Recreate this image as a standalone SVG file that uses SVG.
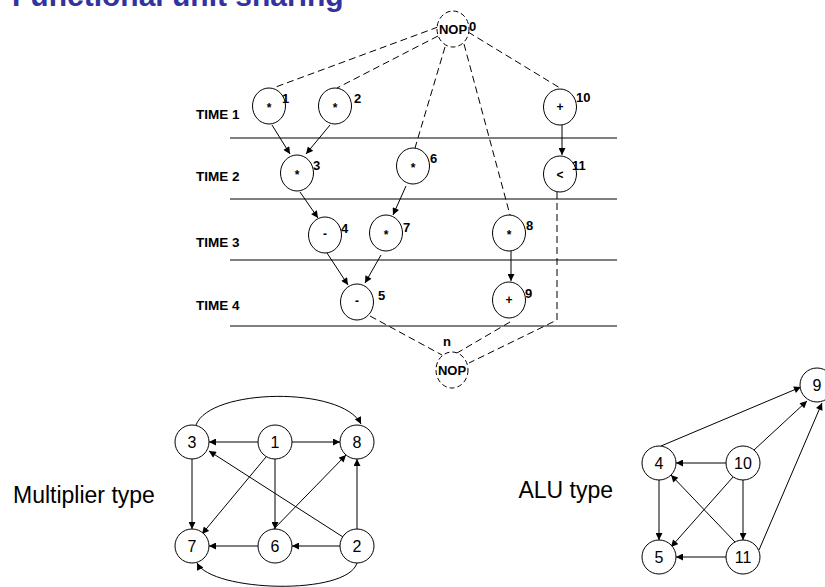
<svg xmlns="http://www.w3.org/2000/svg" width="825" height="587" viewBox="0 0 825 587">
  <style>
    text { font-family: "Liberation Sans", Arial, sans-serif; fill: #000; }
    .title { font-size: 30px; font-weight: bold; fill: #3333a0; }
    .time { font-size: 13.5px; font-weight: bold; }
    .op { font-size: 12px; font-weight: bold; text-anchor: middle; }
    .num { font-size: 13px; font-weight: bold; }
    .nop { font-size: 13px; font-weight: bold; text-anchor: middle; }
    .side { font-size: 23px; }
    .lbl { font-size: 16px; text-anchor: middle; }
    .node { fill: #fff; stroke: #000; stroke-width: 1; }
    .dnode { fill: #fff; stroke: #000; stroke-width: 1; stroke-dasharray: 5 3; }
    .band { stroke: #000; stroke-width: 1.2; fill: none; }
    .edge { stroke: #000; stroke-width: 1; fill: none; marker-end: url(#ah); }
    .dash { stroke: #000; stroke-width: 1; fill: none; stroke-dasharray: 7 4; }
  </style>
  <defs>
    <marker id="ah" viewBox="0 0 10 10" refX="10" refY="5" markerWidth="8" markerHeight="7" orient="auto" markerUnits="userSpaceOnUse">
      <path d="M0,0 L10,5 L0,10 z" fill="#000"/>
    </marker>
  </defs>

  <text class="title" x="12" y="6">Functional unit sharing</text>

  <!-- time step bands -->
  <g id="timeline">
    <line class="band" x1="230" y1="138" x2="617" y2="138"/>
    <line class="band" x1="230" y1="199" x2="617" y2="199"/>
    <line class="band" x1="230" y1="260" x2="617" y2="260"/>
    <line class="band" x1="230" y1="326" x2="617" y2="326"/>
    <text class="time" x="196" y="119">TIME 1</text>
    <text class="time" x="196" y="181">TIME 2</text>
    <text class="time" x="196" y="247">TIME 3</text>
    <text class="time" x="196" y="310">TIME 4</text>
  </g>

  <!-- scheduled sequencing graph: connectors -->
  <g id="sched-edges">
    <line class="dash" x1="438" y1="27" x2="273" y2="88"/>
    <line class="dash" x1="438" y1="36" x2="337" y2="88"/>
    <line class="dash" x1="445" y1="47" x2="415" y2="148"/>
    <line class="dash" x1="464" y1="44" x2="510" y2="215"/>
    <line class="dash" x1="468" y1="32" x2="560" y2="88"/>
    <line class="dash" x1="370" y1="316" x2="442" y2="355"/>
    <line class="dash" x1="510" y1="322" x2="457" y2="353"/>
    <polyline class="dash" points="557,192 557,320 469,363"/>
    <line class="edge" x1="272" y1="125" x2="290" y2="154"/>
    <line class="edge" x1="330" y1="125" x2="306" y2="154"/>
    <line class="edge" x1="562" y1="125" x2="562" y2="155"/>
    <line class="edge" x1="406" y1="186" x2="393" y2="215"/>
    <line class="edge" x1="300" y1="192" x2="318" y2="218"/>
    <line class="edge" x1="327" y1="253" x2="348" y2="285"/>
    <line class="edge" x1="381" y1="255" x2="365" y2="283"/>
    <line class="edge" x1="511" y1="251" x2="511" y2="281"/>
  </g>

  <g id="nop0">
    <ellipse class="dnode" cx="453" cy="29" rx="16" ry="18"/>
    <text class="nop" x="453" y="34">NOP</text>
    <text class="num" x="469" y="31">0</text>
  </g>
  <g id="op1">
    <ellipse class="node" cx="269" cy="106" rx="16.5" ry="18"/>
    <text class="op" x="269" y="112">*</text>
    <text class="num" x="282" y="103">1</text>
  </g>
  <g id="op2">
    <ellipse class="node" cx="335" cy="106" rx="16.5" ry="18"/>
    <text class="op" x="335" y="112">*</text>
    <text class="num" x="354" y="103">2</text>
  </g>
  <g id="op10">
    <ellipse class="node" cx="560" cy="107" rx="16.5" ry="18"/>
    <text class="op" x="560" y="111">+</text>
    <text class="num" x="576" y="102">10</text>
  </g>
  <g id="op3">
    <ellipse class="node" cx="297" cy="173" rx="16.5" ry="18"/>
    <text class="op" x="297" y="179">*</text>
    <text class="num" x="313" y="170">3</text>
  </g>
  <g id="op6">
    <ellipse class="node" cx="413" cy="166" rx="16.5" ry="18"/>
    <text class="op" x="413" y="172">*</text>
    <text class="num" x="430" y="163">6</text>
  </g>
  <g id="op11">
    <ellipse class="node" cx="560" cy="174" rx="16.5" ry="18"/>
    <text class="op" x="560" y="179">&lt;</text>
    <text class="num" x="572" y="170">11</text>
  </g>
  <g id="op4">
    <ellipse class="node" cx="325" cy="235" rx="16.5" ry="18"/>
    <text class="op" x="325" y="238">-</text>
    <text class="num" x="341" y="233">4</text>
  </g>
  <g id="op7">
    <ellipse class="node" cx="386" cy="233" rx="16.5" ry="18"/>
    <text class="op" x="386" y="239">*</text>
    <text class="num" x="403" y="232">7</text>
  </g>
  <g id="op8">
    <ellipse class="node" cx="509" cy="233" rx="16.5" ry="18"/>
    <text class="op" x="509" y="239">*</text>
    <text class="num" x="526" y="230">8</text>
  </g>
  <g id="op5">
    <ellipse class="node" cx="357" cy="302" rx="16.5" ry="18"/>
    <text class="op" x="357" y="305">-</text>
    <text class="num" x="378" y="300">5</text>
  </g>
  <g id="op9">
    <ellipse class="node" cx="509" cy="300" rx="16.5" ry="18"/>
    <text class="op" x="509" y="304">+</text>
    <text class="num" x="525" y="298">9</text>
  </g>
  <g id="nopn">
    <ellipse class="dnode" cx="452" cy="370" rx="16" ry="18"/>
    <text class="nop" x="452" y="375">NOP</text>
    <text class="num" x="443" y="346">n</text>
  </g>

  <!-- multiplier compatibility graph -->
  <text class="side" x="13" y="503">Multiplier type</text>
  <g id="mul-edges">
    <path class="edge" d="M196,425 C210,388 342,386 361,424"/>
    <path class="edge" d="M357,563 C347,596 212,592 197,563"/>
    <line class="edge" x1="258" y1="442" x2="209" y2="442"/>
    <line class="edge" x1="292" y1="442" x2="340" y2="442"/>
    <line class="edge" x1="192" y1="459" x2="192" y2="529"/>
    <line class="edge" x1="266" y1="457" x2="202" y2="534"/>
    <line class="edge" x1="275" y1="459" x2="275" y2="529"/>
    <line class="edge" x1="268" y1="535" x2="346" y2="455"/>
    <line class="edge" x1="343" y1="537" x2="209" y2="451"/>
    <line class="edge" x1="357" y1="529" x2="357" y2="459"/>
    <line class="edge" x1="258" y1="546" x2="209" y2="546"/>
    <line class="edge" x1="340" y1="546" x2="292" y2="546"/>
  </g>
  <g id="m3"><circle class="node" cx="192" cy="442" r="17"/><text class="lbl" x="192" y="448">3</text></g>
  <g id="m1"><circle class="node" cx="275" cy="442" r="17"/><text class="lbl" x="275" y="448">1</text></g>
  <g id="m8"><circle class="node" cx="357" cy="442" r="17"/><text class="lbl" x="357" y="448">8</text></g>
  <g id="m7"><circle class="node" cx="192" cy="546" r="17"/><text class="lbl" x="192" y="552">7</text></g>
  <g id="m6"><circle class="node" cx="275" cy="546" r="17"/><text class="lbl" x="275" y="552">6</text></g>
  <g id="m2"><circle class="node" cx="357" cy="546" r="17"/><text class="lbl" x="357" y="552">2</text></g>

  <!-- ALU compatibility graph -->
  <text class="side" x="613" y="498" text-anchor="end">ALU type</text>
  <g id="alu-edges">
    <line class="edge" x1="661" y1="446" x2="801" y2="387"/>
    <line class="edge" x1="754" y1="450" x2="807" y2="401"/>
    <line class="edge" x1="759" y1="550" x2="822" y2="403"/>
    <line class="edge" x1="726" y1="463" x2="676" y2="463"/>
    <line class="edge" x1="735" y1="542" x2="671" y2="475"/>
    <line class="edge" x1="659" y1="480" x2="659" y2="540"/>
    <line class="edge" x1="733" y1="477" x2="671" y2="547"/>
    <line class="edge" x1="743" y1="480" x2="743" y2="540"/>
    <line class="edge" x1="726" y1="557" x2="676" y2="557"/>
  </g>
  <g id="a9"><circle class="node" cx="817" cy="385" r="17"/><text class="lbl" x="817" y="391">9</text></g>
  <g id="a4"><circle class="node" cx="659" cy="463" r="17"/><text class="lbl" x="659" y="469">4</text></g>
  <g id="a10"><circle class="node" cx="743" cy="463" r="17"/><text class="lbl" x="743" y="469">10</text></g>
  <g id="a5"><circle class="node" cx="659" cy="557" r="17"/><text class="lbl" x="659" y="563">5</text></g>
  <g id="a11"><circle class="node" cx="743" cy="557" r="17"/><text class="lbl" x="743" y="563">11</text></g>
</svg>
